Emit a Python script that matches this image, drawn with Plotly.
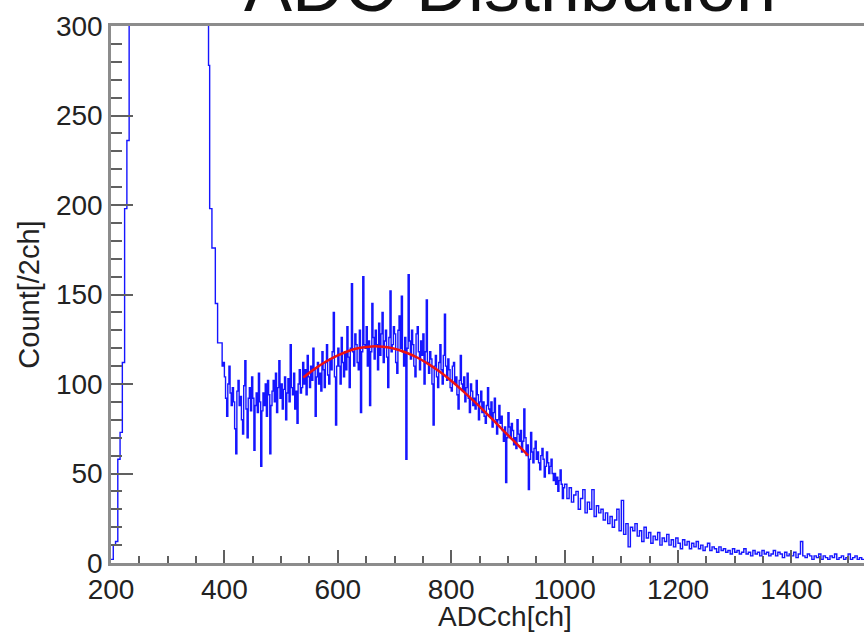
import plotly.graph_objects as go

# ---- data ----
# rising edge and saturated region (4 ch bins, 200..372)
rise_start, rise_width = 200, 4
counts_rise = [
    2, 10, 12, 58, 73, 112, 198, 236, 3000, 3400,
    3800, 4100, 4300, 4350, 4250, 4050, 3800, 3500, 3200, 2900,
    2600, 2300, 2050, 1800, 1600, 1420, 1260, 1120, 1000, 900,
    810, 730, 660, 600, 545, 500, 460, 425, 395, 370,
    350, 335, 320,
]
# main region (2 ch bins, 372..1000)
main_start, main_width = 372, 2
counts_main = [
    278, 198, 198, 176, 176, 176, 145, 145, 123, 123, 123, 123, 110, 112,
    104, 92, 82, 100, 110, 95, 88, 98, 90, 75, 61, 96, 102, 88, 93, 80, 72, 99, 113, 86,
    70, 92, 98, 85, 104, 92, 63, 88, 95, 84, 106, 90, 54, 85, 95, 88, 100, 82, 102, 94,
    61, 88, 96, 102, 90, 106, 84, 98, 113, 92, 100, 86, 97, 104, 80, 95, 103, 90, 122, 98,
    94, 106, 86, 96, 78, 100, 108, 95, 98, 112, 100, 108, 94, 116, 104, 98, 110, 102, 120, 108,
    82, 104, 112, 100, 106, 96, 118, 108, 98, 112, 122, 105, 100, 114, 108, 118, 140, 104, 77, 110,
    120, 110, 100, 126, 112, 104, 118, 108, 132, 115, 98, 120, 156, 118, 110, 128, 122, 112, 108, 130,
    84, 118, 160, 122, 120, 132, 110, 124, 88, 118, 145, 126, 114, 130, 122, 108, 134, 116, 128, 140,
    112, 124, 130, 115, 98, 126, 152, 118, 122, 132, 128, 112, 106, 130, 138, 120, 149, 118, 110, 126,
    58, 120, 161, 124, 114, 130, 122, 110, 104, 128, 132, 118, 108, 124, 116, 128, 100, 118, 147, 112,
    106, 118, 114, 100, 77, 110, 116, 104, 98, 112, 122, 108, 100, 116, 139, 110, 102, 114, 108, 98,
    96, 110, 112, 100, 104, 94, 86, 102, 116, 100, 96, 104, 90, 98, 106, 92, 84, 100, 96, 88,
    92, 86, 102, 94, 80, 90, 96, 84, 90, 82, 78, 88, 98, 86, 82, 90, 76, 84, 92, 80,
    72, 80, 88, 78, 82, 74, 68, 76, 45, 70, 84, 76, 70, 78, 74, 66, 70, 64, 80, 72,
    68, 74, 62, 68, 86, 70, 60, 66, 41, 58, 73, 62, 56, 64, 68, 58, 62, 56, 52, 60,
    64, 58, 48, 54, 62, 56, 50, 54, 58, 50, 46, 50, 44, 48, 40, 46, 52, 44, 36, 42,
]
# tail (4 ch bins, 1000..1528)
tail_start, tail_width = 1000, 4
counts_tail = [
    44, 36, 42, 34, 38, 40, 30, 36, 41, 28,
    34, 30, 41, 26, 32, 28, 30, 24, 28, 22,
    26, 20, 24, 30, 18, 35, 16, 22, 9, 20,
    18, 22, 15, 18, 12, 20, 14, 17, 11, 15,
    13, 17, 10, 14, 12, 16, 10, 13, 9, 14,
    11, 8, 13, 10, 12, 8, 11, 9, 12, 8,
    10, 7, 9, 11, 7, 9, 8, 6, 9, 7,
    8, 6, 7, 5, 8, 6, 7, 5, 6, 8,
    5, 6, 4, 7, 5, 6, 4, 7, 5, 6,
    4, 5, 7, 4, 6, 5, 3, 6, 4, 5,
    4, 6, 3, 5, 12, 4, 3, 5, 4, 2,
    4, 3, 5, 2, 4, 3, 2, 4, 3, 5,
    2, 3, 4, 2, 3, 5, 2, 3, 4, 2,
    3, 2,
]
fit_x = [539, 560, 580, 600, 620, 640, 660, 680, 700, 720, 740,
         760, 780, 800, 820, 840, 860, 880, 900, 920, 936]
fit_y = [103.6, 108.6, 112.7, 116.0, 118.6, 120.2, 121.0, 120.8, 119.7, 117.6, 114.8,
         111.1, 106.8, 101.8, 96.3, 90.4, 84.3, 77.9, 71.5, 65.1, 60.0]
x_ticks = [200, 400, 600, 800, 1000, 1200, 1400]
y_ticks = [0, 50, 100, 150, 200, 250, 300]

title_text = "ADC Distribution"
x_title = "ADCch[ch]"
y_title = "Count[/2ch]"

# ---- build step outline ----
hx, hy = [], []
for start, width, cts in [(rise_start, rise_width, counts_rise),
                          (main_start, main_width, counts_main),
                          (tail_start, tail_width, counts_tail)]:
    hx += [start + i * width for i in range(len(cts))]
    hy += list(cts)
hx.append(tail_start + tail_width * len(counts_tail))
hy.append(counts_tail[-1])

fig = go.Figure()
fig.add_trace(go.Scatter(x=hx, y=hy, mode="lines", line_shape="hv",
                         line=dict(color="#1515ff", width=1.4), showlegend=False))
fig.add_trace(go.Scatter(x=fit_x, y=fit_y, mode="lines", line_shape="spline",
                         line=dict(color="#ee1111", width=2.5), showlegend=False))

tickfont = dict(family="Liberation Sans, Arial, sans-serif", size=28, color="#222222")
axcol = "#8c8c8c"
tkcol = "#606060"

fig.update_layout(
    width=864, height=634,
    margin=dict(l=111, r=0, t=26, b=71),
    paper_bgcolor="white", plot_bgcolor="white",
    xaxis=dict(range=[200, 1528], tickvals=x_ticks, ticktext=[str(v) for v in x_ticks],
               ticks="inside", ticklen=13, tickwidth=1.5, tickcolor=tkcol,
               minor=dict(ticks="inside", ticklen=7, tickwidth=1.5, tickcolor=tkcol, dtick=50, tick0=200),
               showline=True, linecolor=axcol, linewidth=2.5, mirror=True,
               showgrid=False, zeroline=False, tickfont=tickfont, ticklabelstandoff=0),
    yaxis=dict(range=[0, 300], tickvals=y_ticks, ticktext=[str(v) for v in y_ticks],
               ticks="inside", ticklen=22, tickwidth=1.5, tickcolor=tkcol,
               minor=dict(ticks="inside", ticklen=11, tickwidth=1.5, tickcolor=tkcol, dtick=10, tick0=0),
               showline=True, linecolor=axcol, linewidth=2.5, mirror=False,
               showgrid=False, zeroline=False, tickfont=tickfont, ticklabelstandoff=0),
    annotations=[
        dict(text=title_text, xref="paper", yref="paper", x=0.53, y=1.0,
             xanchor="center", yanchor="bottom", showarrow=False, yshift=-2,
             font=dict(family="Liberation Sans, Arial, sans-serif", size=72, color="#111", weight=300)),
        dict(text=x_title, xref="paper", yref="paper", x=0.523, y=-0.1,
             xanchor="center", yanchor="middle", showarrow=False,
             font=dict(family="Liberation Sans, Arial, sans-serif", size=28, color="#222222")),
        dict(text=y_title, xref="paper", yref="paper", x=-0.11, y=0.5,
             xanchor="center", yanchor="middle", showarrow=False, textangle=-90,
             font=dict(family="Liberation Sans, Arial, sans-serif", size=29, color="#222222")),
    ],
)

fig.write_html("out.html")
